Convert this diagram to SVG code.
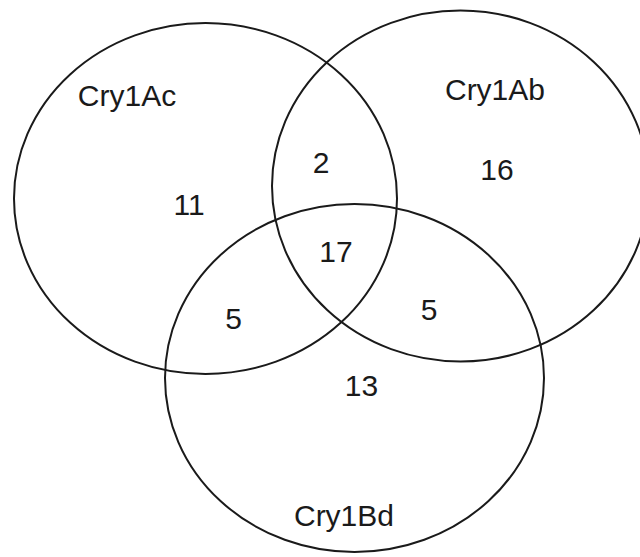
<svg xmlns="http://www.w3.org/2000/svg" width="640" height="557" viewBox="0 0 640 557">
<style>
.set{fill:none;stroke:#1a1a1a;stroke-width:2}
text{font-family:"Liberation Sans",Arial,sans-serif;font-size:30px;fill:#1a1a1a;text-anchor:middle}
</style>
<rect width="640" height="557" fill="#ffffff"/>
<g id="cry1ac">
<ellipse class="set" cx="205.5" cy="198.5" rx="191.5" ry="175.5"/>
<text x="127" y="106">Cry1Ac</text>
</g>
<g id="cry1ab">
<ellipse class="set" cx="460.5" cy="186" rx="188.5" ry="175.5"/>
<text x="495" y="100">Cry1Ab</text>
</g>
<g id="cry1bd">
<ellipse class="set" cx="354.5" cy="378" rx="189.5" ry="174"/>
<text x="344" y="526">Cry1Bd</text>
</g>
<g id="counts">
<text x="189" y="215">11</text>
<text x="321" y="173">2</text>
<text x="497" y="180">16</text>
<text x="336" y="262">17</text>
<text x="233.5" y="329">5</text>
<text x="429" y="320">5</text>
<text x="361.5" y="396">13</text>
</g>
</svg>
